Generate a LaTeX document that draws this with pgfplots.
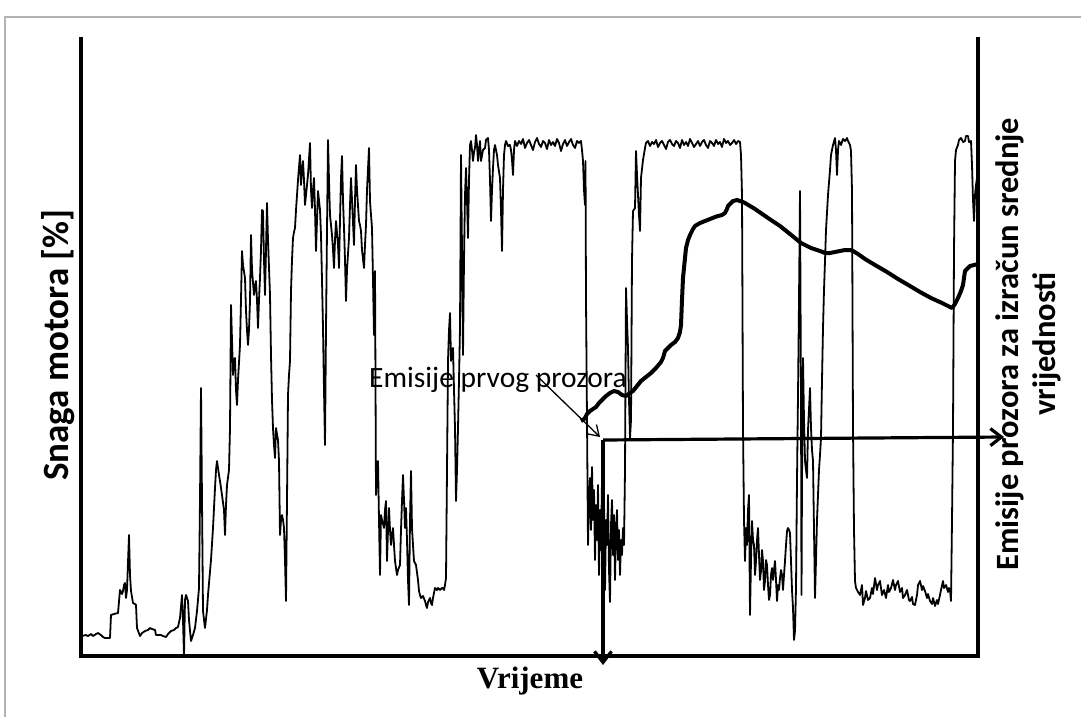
\documentclass[border=0pt]{standalone}
\usepackage{fontspec}
\setmainfont{Carlito}
\newfontfamily\timesfont{Liberation Serif}
\usepackage{pgfplots}
\pgfplotsset{compat=1.18}
\usetikzlibrary{arrows.meta}

\begin{document}
\begin{tikzpicture}
\useasboundingbox (0,0) rectangle (1081pt,717pt);
\begin{axis}[
    at={(81pt,61pt)}, anchor=south west,
    scale only axis, width=897pt, height=619pt,
    xmin=81, xmax=978, ymin=37, ymax=656,
    y dir=reverse,
    axis lines=none, ticks=none,
    clip=false,
  ]
  % power signal (pixel units)
  \addplot[black, line width=1.8pt, line join=round] coordinates {
    (82,636) (86,635) (88,636) (91,634) (93,636) (96,634) (98,633) (101,635) (103,637) (105,638) (110,638)
    (111,615) (114,614) (118,613) (120,590) (122,594) (123,591) (124,585) (125,583) (126,598) (127,590)
    (129,535) (130,575) (131,591) (133,603) (135,604) (136,605) (137,628) (140,636) (142,633) (145,631)
    (148,630) (150,628) (152,629) (155,630) (156,635) (161,635) (163,636) (166,637) (168,634) (171,631)
    (174,630) (176,628) (178,627) (180,618) (182,595) (183,620) (184,656) (185,600) (186,595) (188,601)
    (189,620) (191,641) (193,635) (195,628) (197,611) (199,588) (200,500) (201,388) (202,500) (203,611)
    (205,628) (207,610) (208,595) (211,560) (213,528) (215,488) (216,470) (217,461) (219,475) (220,481)
    (222,495) (224,510) (225,535) (226,505) (227,485) (229,470) (230,428) (231,305) (232,340) (233,375)
    (234,360) (235,358) (236,390) (237,405) (238,380) (240,345) (241,300) (242,251) (243,265) (245,278)
    (246,311) (247,330) (248,345) (249,330) (250,301) (251,235) (252,270) (254,295) (255,285) (256,281)
    (257,300) (258,328) (259,300) (260,278) (261,250) (262,210)
    (263,211) (264,260) (265,295) (266,250) (267,203) (268,240) (270,295) (271,355) (272,400) (273,428)
    (274,445) (275,458) (276,428) (278,440) (279,461) (280,535) (281,520) (282,515) (283,520) (284,528)
    (285,560) (286,601) (287,500) (288,395) (289,375) (290,361) (291,291) (292,260) (293,238) (294,232)
    (295,228) (296,210) (297,195) (298,180) (300,155) (301,185) (302,170) (303,161) (304,180) (305,205)
    (306,195) (307,185) (308,175) (310,143) (311,190) (312,208) (313,190) (314,178) (315,210) (316,251)
    (317,220) (318,191) (320,210) (321,235) (322,280) (323,328) (324,390) (325,445) (326,328) (327,230)
    (328,140) (329,180) (330,215) (331,225) (332,235) (333,250) (334,268) (335,240) (336,221) (338,245)
    (339,268) (340,220) (341,178) (342,156) (343,200) (344,228) (345,260) (346,301) (347,270) (349,238)
    (350,205) (351,178) (352,200) (354,245) (355,200) (356,165) (357,190) (359,221) (360,225) (361,231)
    (362,250) (364,268) (365,245) (366,225) (367,190) (369,148) (370,201) (371,215) (372,228) (373,280)
    (374,335) (375,271) (376,495) (377,475) (378,461) (379,520) (380,575) (381,515) (382,520) (384,528)
    (385,510) (386,501) (387,561) (388,530) (389,508) (390,530) (391,545) (392,535) (393,528) (394,545)
    (395,561) (396,568) (397,575) (398,570) (400,565) (401,530) (402,501) (403,475) (404,500) (405,528)
    (406,508) (407,540) (408,580) (409,605) (410,520) (411,471) (412,528) (413,545) (414,561) (415,563)
    (416,565) (418,580) (419,591) (420,595) (421,598) (423,596) (425,601) (426,605) (427,608) (428,602)
    (430,598) (431,603) (432,605) (433,598) (435,588) (437,590) (438,588) (440,590) (442,588)
    (443,588) (444,590) (445,585) (446,578) (447,470) (448,361) (449,330) (450,313) (451,361) (452,350)
    (453,348) (454,390) (455,428) (456,501) (457,470) (458,428) (459,380) (460,328) (461,155) (462,250)
    (463,355) (464,260) (465,195) (466,168) (467,200) (468,238) (469,180) (470,145) (471,141) (472,150)
    (473,161) (474,152) (475,148) (476,135) (477,145) (478,161) (479,150) (480,141) (481,161) (483,150)
    (485,148) (486,140) (488,138) (489,150) (490,180) (491,221) (492,190) (493,168) (494,150) (495,145)
    (496,150) (497,155) (498,165) (500,178) (501,210) (502,251) (503,190) (504,155) (505,145) (506,141)
    (508,146) (510,145) (511,150) (512,160) (513,175) (514,150) (515,141)
    (517,146) (519,141) (521,144) (523,139) (525,148) (527,143) (529,140) (531,145) (533,150) (535,142)
    (537,138) (539,144) (541,147) (543,141) (545,143) (547,149) (549,140) (551,145) (553,142) (555,146)
    (557,139) (559,143) (561,151) (563,144) (565,140) (567,146) (569,142) (571,139) (573,145) (575,148)
    (577,141) (579,143) (581,141)
    (582,150) (583,161) (584,190) (585,205) (585.5,161) (586,300) (587,420) (588,545) (589,500) (590,478)
    (591,530) (592,467) (593,520) (594,490) (595,560) (596,505) (597,540) (598,485) (599,575) (600,510)
    (601,550) (602,480) (603,565) (604,500) (605,590) (606,520) (607,545) (608,495) (609,570) (610,602)
    (611,525) (612,500) (613,555) (614,515) (615,580) (616,530) (617,510) (618,560) (619,530) (620,575)
    (621,540) (622,555) (623,528) (624,545) (625,470) (626,288) (627,320) (628,348) (629,400) (630,438)
    (631,420) (632,260) (633,211) (635,208) (636,151) (637,175) (638,195) (639,215) (640,231) (641,178)
    (643,160) (645,148) (646,143) (648,141)
    (650,146) (652,142) (654,144) (656,140) (658,147) (660,143) (662,141) (664,145) (666,149) (668,142)
    (670,140) (672,144) (674,146) (676,141) (678,143) (680,148) (682,140) (684,145) (686,142) (688,146)
    (690,139) (692,143) (694,147) (696,144) (698,141) (700,146) (702,142) (704,140) (706,145) (708,148)
    (710,141) (712,143) (714,146) (716,140) (718,144) (720,142) (722,147) (724,139) (726,143) (728,141)
    (730,145) (732,143) (734,140) (736,144) (738,141) (740,142)
    (741,155) (742,195) (743,428) (744,520) (745,561) (746,528) (747,545) (748,510) (749,495) (750,615)
    (751,560) (752,521) (753,540) (754,545) (755,575) (756,561) (757,540) (758,528) (759,555) (760,580)
    (761,571) (762,550) (763,561) (764,590) (765,581) (766,560) (767,565) (768,585) (769,600) (770,595)
    (771,575) (772,568) (773,580) (774,570) (775,561) (776,580) (777,601) (778,585) (779,590) (780,578)
    (781,570) (782,575) (783,590) (784,575) (785,561) (786,545) (787,531) (788,528) (789,530) (790,533)
    (791,561) (792,590) (793,608) (794,640) (795,631) (796,588) (797,480) (798,395) (799,300) (800,191)
    (801,400) (801.5,595) (802,480) (803,358) (804,420) (805,461) (806,470) (807,478) (808,430) (810,388)
    (811,428) (812,450) (813,461) (814,530) (815,598) (816,560) (817,520) (818,495) (819,470) (820,455)
    (821,438) (822,380) (823,328) (824,290) (825,261) (826,230) (828,195) (830,170) (831,155) (833,145)
    (835,138) (836,150) (837,175) (838,150) (839,141) (841,145) (843,139) (845,141) (847,138) (848,141)
    (850,145) (851,151) (852,191) (853,428) (854,530) (855,581) (856,588)
    (858,592) (860,595) (862,585) (863,605) (865,598) (866,591) (868,600) (870,598) (872,588) (873,594)
    (875,578) (877,590) (878,585) (880,581) (882,595) (884,590) (886,598) (888,585) (889,592) (891,588)
    (893,580) (895,590) (896,585) (898,581) (900,592) (902,588) (903,598) (905,595) (907,590) (909,600)
    (910,601) (912,597) (913,604) (915,605) (917,595) (918,585) (920,581) (922,590) (923,586) (925,591)
    (927,598) (928,594) (930,601) (932,604) (933,598) (935,606) (937,600) (938,604) (940,595) (941,590)
    (943,581) (944,588) (946,585) (948,592) (949,588) (950,590) (951,601) (952,520) (953,428) (954,250)
    (955,161) (956,150) (958,145) (959,140) (961,138) (963,142) (965,141) (966,136) (968,136) (969,142)
    (971,141) (972,165) (973,200) (974,221) (975,195) (976,185) (977,178) (978,160)
  };
  % moving-window average
  \addplot[black, line width=4pt, line join=round] coordinates {
    (581,421) (583,420) (585,418) (587,414) (590,411) (593,409) (596,407) (599,403) (602,400) (606,396)
    (610,393) (614,391) (618,392) (622,395) (626,396) (630,393) (633,391) (637,386) (641,381) (646,377)
    (651,373) (656,368) (661,362) (663,358) (665,351) (668,348) (671,345) (675,342) (678,338) (680,332)
    (681,325) (682,300) (683,278) (685,258) (686,248) (688,240) (690,235) (693,229) (695,226) (700,223)
    (705,221) (710,219) (715,217) (718,216) (722,215) (725,213) (727,209) (728,206) (731,203) (733,201)
    (737,200) (740,201) (743,202) (745,203) (755,209) (768,218) (780,226) (790,234) (801,243) (811,248)
    (820,251) (825,253) (830,253) (835,252) (840,251) (845,250) (850,250) (853,251) (858,254) (865,259)
    (875,265) (887,272) (898,279) (910,286) (920,292) (931,298) (942,303) (952,308) (955,304) (958,298)
    (961,291) (963,285) (964,278) (965,271) (968,268) (970,266) (974,265) (978,264)
  };
  % axis frame: left, bottom, right
  \draw[line width=3.6pt] (axis cs:81,37) -- (axis cs:81,656) -- (axis cs:978,656) -- (axis cs:978,37);
  % window arrows
  \draw[line width=3.2pt, -{Straight Barb[length=11pt,width=17pt]}] (axis cs:603,440) -- (axis cs:603,665);
  \draw[line width=3.2pt, -{Straight Barb[length=11pt,width=17pt]}] (axis cs:603,440) -- (axis cs:1004,437);
  % annotation
  \node[font=\fontsize{29.5}{34}\selectfont, anchor=base west, inner sep=0pt] at (axis cs:369,387) {Emisije prvog prozora};
  \draw[line width=1.3pt, -{Straight Barb[length=10pt,width=13pt]}] (axis cs:536,375) -- (axis cs:600,437);
  % labels
  \node[rotate=90, font=\fontsize{37}{44}\selectfont\bfseries] at (axis cs:58,345) {Snaga motora [\%]};
  \node[rotate=90, align=center, font=\fontsize{32.5}{37}\selectfont\bfseries] at (axis cs:1028,344) {Emisije prozora za izračun srednje\\vrijednosti};
  \node[font=\fontsize{31}{36}\selectfont\timesfont\bfseries] at (axis cs:530,681) {Vrijeme};
  % outer frame
  \draw[gray!60, line width=2pt] (axis cs:5,730) -- (axis cs:5,17) -- (axis cs:1095,17);
\end{axis}
\end{tikzpicture}
\end{document}
